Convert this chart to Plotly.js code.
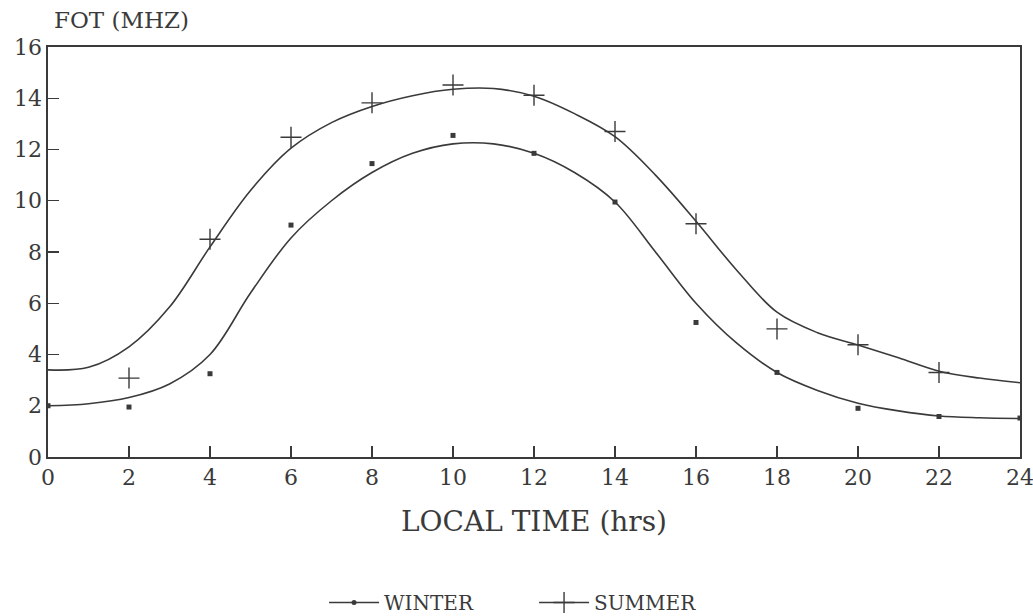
<!DOCTYPE html>
<html>
<head>
<meta charset="utf-8">
<script src="https://cdn.plot.ly/plotly-3.0.1.min.js"></script>
<style>html,body{margin:0;padding:0;background:#fff;}#chart{width:1033px;height:616px;}</style>
</head>
<body>
<div id="chart"></div>
<script>
// Measured points (local time in hours, FOT in MHz)
const hours = [0, 2, 4, 6, 8, 10, 12, 14, 16, 18, 20, 22, 24];
const winterPts = [2.0, 1.95, 3.25, 9.05, 11.45, 12.55, 11.85, 9.95, 5.25, 3.3, 1.9, 1.58, 1.52];
const summerHours = [2, 4, 6, 8, 10, 12, 14, 16, 18, 20, 22];
const summerPts = [3.08, 8.5, 12.48, 13.82, 14.52, 14.12, 12.7, 9.1, 5.0, 4.38, 3.3];

// Fitted curves
const fitHours = [0, 1, 2, 3, 4, 5, 6, 7, 8, 9, 10, 11, 12, 13, 14, 15, 16, 17, 18, 19, 20, 21, 22, 23, 24];
const winterFit = [2.0, 2.08, 2.32, 2.85, 4.0, 6.4, 8.55, 10.0, 11.1, 11.85, 12.22, 12.22, 11.85, 11.1, 9.95, 8.0, 6.0, 4.45, 3.3, 2.6, 2.1, 1.8, 1.6, 1.53, 1.5];
const summerFit = [3.4, 3.5, 4.3, 5.85, 8.2, 10.4, 12.05, 13.05, 13.68, 14.1, 14.35, 14.38, 14.08, 13.4, 12.5, 11.0, 9.2, 7.3, 5.65, 4.85, 4.37, 3.87, 3.35, 3.08, 2.9];

const xTicks = [0, 2, 4, 6, 8, 10, 12, 14, 16, 18, 20, 22, 24];
const yTicks = [0, 2, 4, 6, 8, 10, 12, 14, 16];
const seriesNames = ['WINTER', 'SUMMER'];

const ink = '#3a3a3a';
const font = 'DejaVu Serif';

const winterMarker = {symbol: 'square', size: 5, color: ink};
const summerMarker = {symbol: 'cross-thin', size: 15, color: ink, line: {color: ink, width: 1.4}};
const curveLine = {color: ink, width: 1.6, shape: 'spline', smoothing: 1};

const traces = [
  {x: fitHours, y: winterFit, mode: 'lines', line: curveLine, showlegend: false, hoverinfo: 'skip'},
  {x: fitHours, y: summerFit, mode: 'lines', line: curveLine, showlegend: false, hoverinfo: 'skip'},
  {x: hours, y: winterPts, name: seriesNames[0], mode: 'markers', marker: winterMarker, showlegend: false},
  {x: summerHours, y: summerPts, name: seriesNames[1], mode: 'markers', marker: summerMarker, showlegend: false},
  // legend entries (line + symbol, as in the original key)
  {x: [null], y: [null], name: seriesNames[0], mode: 'lines+markers', line: {color: ink, width: 1.6}, marker: {symbol: 'circle', size: 5, color: ink}},
  {x: [null], y: [null], name: seriesNames[1], mode: 'lines+markers', line: {color: ink, width: 1.6}, marker: summerMarker}
];

const layout = {
  width: 1033, height: 616,
  paper_bgcolor: '#fff', plot_bgcolor: '#fff',
  margin: {l: 48, r: 13, t: 47, b: 159, autoexpand: false},
  font: {family: font, color: ink, size: 20},
  showlegend: true,
  legend: {orientation: 'h', x: 0.284, xanchor: 'left', y: -0.355, yanchor: 'middle',
           font: {family: font, size: 20, color: ink}, itemwidth: 50,
           entrywidth: 145, entrywidthmode: 'pixels', traceorder: 'normal'},
  xaxis: {
    range: [0, 24], tickvals: xTicks, ticktext: xTicks.map(String),
    ticks: 'inside', ticklen: 11, tickwidth: 1.3, tickcolor: ink,
    showline: true, linecolor: ink, linewidth: 1.6, mirror: true,
    showgrid: false, zeroline: false, ticklabeloverflow: 'allow',
    tickfont: {family: font, size: 22, color: ink},
    title: {text: 'LOCAL TIME (hrs)', font: {family: font, size: 28, color: ink}, standoff: 22}
  },
  yaxis: {
    range: [0, 16], tickvals: yTicks, ticktext: yTicks.map(String),
    ticks: 'inside', ticklen: 11, tickwidth: 1.3, tickcolor: ink,
    showline: true, linecolor: ink, linewidth: 1.6, mirror: true,
    showgrid: false, zeroline: false, ticklabeloverflow: 'allow',
    tickfont: {family: font, size: 22, color: ink}
  },
  annotations: [
    {text: 'FOT (MHZ)', xref: 'paper', yref: 'paper', x: 0.004, y: 1.03, xanchor: 'left', yanchor: 'bottom',
     showarrow: false, font: {family: font, size: 23, color: ink}}
  ]
};

Plotly.newPlot('chart', traces, layout, {displayModeBar: false, staticPlot: true});
</script>
</body>
</html>
